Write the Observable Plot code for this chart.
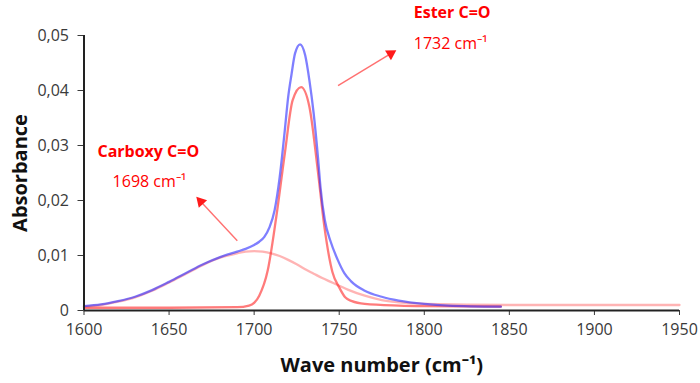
<!DOCTYPE html>
<html>
<head>
<meta charset="utf-8">
<script src="https://cdn.jsdelivr.net/npm/d3@7"></script>
<script src="https://cdn.jsdelivr.net/npm/@observablehq/plot@0.6"></script>
<style>
  html, body { margin: 0; padding: 0; background: #fff; }
  #chart svg { display: block; }
</style>
</head>
<body>
<div id="chart"></div>
<script>
// ---- Data ----
// Sum spectrum (blue)
const blueWn  = [1600, 1610, 1620, 1630, 1640, 1650, 1660, 1670, 1680, 1690, 1695, 1700, 1703, 1706, 1709, 1712, 1715, 1718, 1720, 1722, 1724, 1727, 1730, 1732.5, 1735, 1737.5, 1739, 1741.5, 1745, 1749, 1753, 1757, 1765, 1775, 1785, 1800, 1814, 1845];
const blueAbs = [0.0008, 0.0011, 0.0017, 0.0025, 0.0037, 0.0052, 0.0068, 0.0084, 0.0097, 0.0107, 0.0112, 0.0119, 0.0125, 0.0134, 0.0151, 0.0182, 0.0242, 0.0327, 0.0388, 0.0430, 0.0467, 0.0484, 0.0464, 0.0418, 0.0358, 0.0279, 0.0224, 0.0165, 0.0125, 0.0093, 0.0068, 0.0053, 0.0036, 0.0025, 0.0018, 0.0012, 0.0009, 0.0007];
// Ester C=O component (red, narrow)
const esterWn  = [1600, 1650, 1690, 1697, 1700, 1703, 1708, 1713, 1718, 1722.6, 1727.6, 1732.5, 1737.4, 1741.3, 1746, 1750, 1753.5, 1757.5, 1765, 1785, 1800, 1845];
const esterAbs = [0.0005, 0.0005, 0.0006, 0.0009, 0.0014, 0.0027, 0.0073, 0.0170, 0.0285, 0.0382, 0.0406, 0.0370, 0.0255, 0.0152, 0.0070, 0.0042, 0.0024, 0.0017, 0.0012, 0.0009, 0.0008, 0.0007];
// Carboxy C=O component (pink, broad)
const carbWn  = [1600, 1610, 1620, 1630, 1640, 1650, 1660, 1670, 1680, 1690, 1695, 1700, 1705, 1710, 1715, 1720, 1725, 1730, 1735, 1740, 1745, 1750, 1755, 1765, 1775, 1785, 1800, 1850, 1900, 1950];
const carbAbs = [0.0007, 0.0010, 0.0016, 0.0024, 0.0036, 0.0051, 0.0067, 0.0083, 0.0096, 0.0104, 0.0107, 0.0108, 0.0107, 0.0104, 0.0099, 0.0092, 0.0084, 0.0075, 0.0067, 0.0059, 0.0052, 0.0045, 0.0038, 0.0027, 0.0019, 0.0015, 0.0012, 0.0010, 0.0010, 0.0010];

// Axis ticks
const xTicks = [1600, 1650, 1700, 1750, 1800, 1850, 1900, 1950];
const yTicks = [0, 0.01, 0.02, 0.03, 0.04, 0.05];

// Annotations
const labelTitles = ["Carboxy C=O", "Ester C=O"];
const labelWnText = ["1698 cm\u207B\u00B9", "1732 cm\u207B\u00B9"];
const titleX = [1607.9, 1793.8];
const titleY = [0.0282, 0.0536];
const numX   = [1616.8, 1793.8];
const numY   = [0.0224, 0.0476];
const arrowTailX = [1690.1, 1749.3];
const arrowTailY = [0.0127, 0.0409];
const arrowHeadX = [1668.6, 1780.3];
const arrowHeadY = [0.0198, 0.0467];
const arrowRotate = [-42.7, 58.3];

// ---- Tables built from the arrays ----
const blue  = blueWn.map((x, i) => ({x, y: blueAbs[i]}));
const ester = esterWn.map((x, i) => ({x, y: esterAbs[i]}));
const carb  = carbWn.map((x, i) => ({x, y: carbAbs[i]}));
const labels = labelTitles.map((t, i) => ({
  t, n: labelWnText[i], tx: titleX[i], ty: titleY[i], nx: numX[i], ny: numY[i],
  x1: arrowTailX[i], y1: arrowTailY[i], x2: arrowHeadX[i], y2: arrowHeadY[i], r: arrowRotate[i]
}));

const fmtY = d => d === 0 ? "0" : d.toFixed(2).replace(".", ",");

const chart = Plot.plot({
  width: 700,
  height: 383,
  marginLeft: 83.5,
  marginRight: 21,
  marginTop: 35,
  marginBottom: 73,
  style: { fontFamily: "'Open Sans', sans-serif", background: "#fff", overflow: "visible" },
  x: { domain: [1600, 1950] },
  y: { domain: [0, 0.05] },
  marks: [
    Plot.line(carb,  { x: "x", y: "y", stroke: "#ff3b3b", strokeOpacity: 0.38, strokeWidth: 2.3, curve: "monotone-x" }),
    Plot.line(ester, { x: "x", y: "y", stroke: "#ff2a2a", strokeOpacity: 0.62, strokeWidth: 2.3, curve: "monotone-x" }),
    Plot.line(blue,  { x: "x", y: "y", stroke: "#2a2aff", strokeOpacity: 0.6, strokeWidth: 2.3, curve: "monotone-x" }),
    // arrows
    Plot.link(labels, { x1: "x1", y1: "y1", x2: "x2", y2: "y2", stroke: "#ff4040", strokeOpacity: 0.75, strokeWidth: 1.4 }),
    Plot.dot(labels, { x: "x2", y: "y2", symbol: "triangle", r: 4.2, fill: "#ff1a1a", stroke: "none", rotate: "r" }),
    // labels
    Plot.text(labels, { x: "tx", y: "ty", text: "t", textAnchor: "start", lineAnchor: "bottom", fill: "#ff0000", fontSize: 16, fontWeight: "bold", dy: 2 }),
    Plot.text(labels, { x: "nx", y: "ny", text: "n", textAnchor: "start", lineAnchor: "bottom", fill: "#ff0000", fontSize: 16 }),
    // axes
    Plot.axisY({ ticks: yTicks, tickFormat: fmtY, tickSize: 6, tickPadding: 9, fontSize: 16, color: "#3a3a3a", label: null }),
    Plot.axisX({ ticks: xTicks, tickFormat: d => String(d), tickSize: 5, tickPadding: 8, fontSize: 16, color: "#3a3a3a", label: null }),
    Plot.ruleX([1600], { stroke: "#222", strokeWidth: 2 }),
    Plot.ruleY([0], { stroke: "#222", strokeWidth: 2 }),
    // axis titles
    Plot.text(["Absorbance"], { frameAnchor: "left", dx: -63, rotate: -90, textAnchor: "middle", lineAnchor: "middle", fontSize: 20, fontWeight: "bold", fill: "#111" }),
    Plot.text(["Wave number (cm\u207B\u00B9)"], { frameAnchor: "bottom", dy: 55, textAnchor: "middle", lineAnchor: "middle", fontSize: 20, fontWeight: "bold", fill: "#111" })
  ]
});

document.getElementById("chart").appendChild(chart);
</script>
</body>
</html>
